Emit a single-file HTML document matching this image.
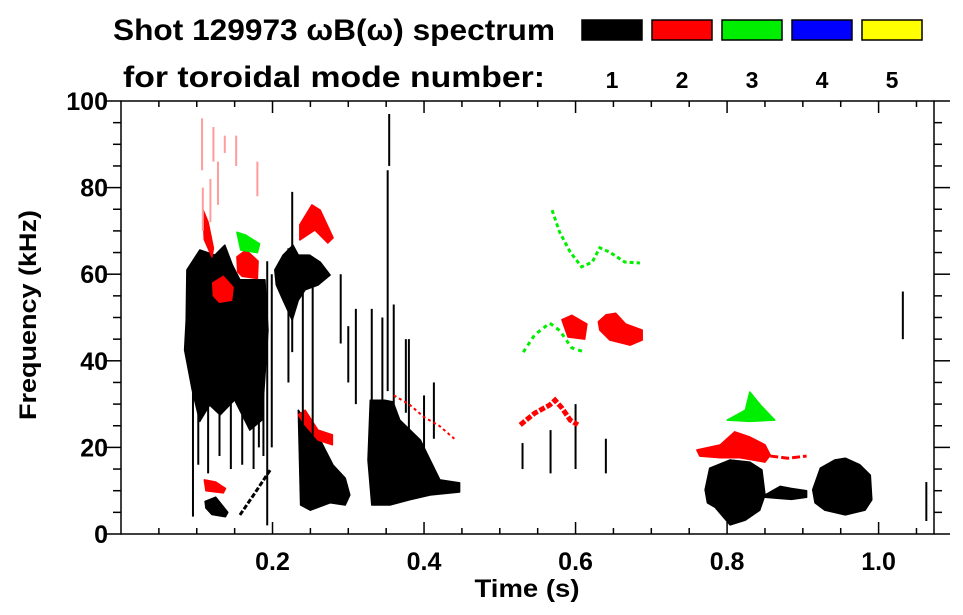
<!DOCTYPE html>
<html><head><meta charset="utf-8">
<style>
body{margin:0;background:#fff;}
svg{display:block;font-family:"Liberation Sans",sans-serif;font-weight:bold;}
</style></head>
<body>
<svg id="chart" width="963" height="615" viewBox="0 0 963 615">
  <text x="113" y="40" font-size="30" textLength="442" lengthAdjust="spacingAndGlyphs">Shot 129973 ωB(ω) spectrum</text>
  <text x="123" y="87" font-size="30" textLength="422" lengthAdjust="spacingAndGlyphs">for toroidal mode number:</text>
  <g id="legend"></g>
  <g id="plot"></g>
  <g id="axes"></g>
  <text x="527" y="597" font-size="25" text-anchor="middle" textLength="105" lengthAdjust="spacingAndGlyphs">Time (s)</text>
  <text transform="translate(36,315) rotate(-90)" font-size="24" text-anchor="middle" textLength="210" lengthAdjust="spacingAndGlyphs">Frequency (kHz)</text>
</svg>
<script>
// mode colours / legend
const modeNumbers = [1, 2, 3, 4, 5];
const modeColors = ["#000000", "#ff0000", "#00ee00", "#0000ff", "#ffff00"];
const faintColor = "#ff9c9c";
// axis ticks
const xTickLabels = ["0.2", "0.4", "0.6", "0.8", "1.0"];
const xTickValues = [0.2, 0.4, 0.6, 0.8, 1.0];
const yTickValues = [0, 20, 40, 60, 80, 100];
// spectral blobs as polygons in (time s, freq kHz)
const blobTs = [
  [0.087,0.104,0.124,0.137,0.147,0.157,0.190,0.194,0.186,0.170,0.150,0.131,0.117,0.104,0.094,0.084,0.086],
  [0.203,0.214,0.227,0.234,0.249,0.263,0.276,0.260,0.243,0.234,0.226,0.214,0.205],
  [0.234,0.243,0.263,0.280,0.296,0.302,0.296,0.276,0.250,0.237],
  [0.329,0.348,0.359,0.368,0.395,0.408,0.421,0.447,0.447,0.408,0.381,0.355,0.331,0.326],
  [0.771,0.777,0.804,0.830,0.846,0.850,0.843,0.824,0.804,0.784,0.774],
  [0.850,0.870,0.885,0.905,0.905,0.885,0.870,0.850],
  [0.913,0.923,0.942,0.956,0.975,0.989,0.991,0.982,0.956,0.929,0.916],
  [0.111,0.125,0.141,0.138,0.120,0.112],
  [0.108,0.115,0.122,0.120,0.110],
  [0.121,0.135,0.148,0.146,0.130,0.122],
  [0.153,0.165,0.181,0.180,0.160,0.154],
  [0.236,0.252,0.263,0.280,0.273,0.256,0.236],
  [0.234,0.243,0.260,0.279,0.279,0.260,0.243],
  [0.630,0.640,0.653,0.666,0.688,0.688,0.672,0.645,0.632],
  [0.582,0.595,0.615,0.612,0.590],
  [0.760,0.791,0.810,0.830,0.850,0.857,0.850,0.817,0.791,0.764],
  [0.110,0.125,0.138,0.135,0.112],
  [0.153,0.165,0.183,0.180,0.158],
  [0.800,0.824,0.830,0.844,0.863,0.830]
];
const blobFs = [
  [61.0,65.6,64.4,66.7,62.1,58.7,58.7,47.1,26.3,24.0,31.0,27.5,29.8,26.0,33.3,42.5,49.4],
  [61.0,64.4,66.7,64.4,64.4,62.8,59.8,57.5,56.4,54.0,49.4,54.0,57.5],
  [28.6,26.3,21.7,15.9,12.9,9.0,6.7,7.2,5.5,6.7],
  [30.9,30.9,30.5,26.3,21.7,17.1,12.5,11.8,9.7,9.0,7.9,6.7,6.7,17.1],
  [10.2,15.2,17.1,16.6,14.8,9.0,5.5,3.2,2.1,6.2,7.2],
  [9.0,11.0,10.5,10.0,8.5,8.0,8.2,8.5],
  [10.2,15.2,17.1,17.5,16.0,13.6,7.9,5.5,4.4,5.5,7.2],
  [7.5,8.5,5.0,4.0,4.5,6.0],
  [75.0,72.0,66.0,64.0,68.0],
  [58.0,59.5,57.0,54.0,53.5,55.0],
  [64.0,65.6,63.0,59.0,59.5,60.5],
  [71.4,76.0,74.8,68.4,67.2,70.2,67.9],
  [27.5,25.2,21.7,20.6,22.9,24.0,28.6],
  [49.0,50.6,51.0,48.5,47.1,44.8,43.6,44.8,47.1],
  [49.5,50.5,48.5,45.0,45.5],
  [19.4,20.6,23.6,22.4,20.6,18.2,16.6,17.6,17.6,18.0],
  [12.5,12.0,10.5,9.5,10.0],
  [69.7,69.0,67.0,65.0,65.6],
  [26.3,28.6,32.8,29.8,26.3,26.0]
];
const blobMode = [1,1,1,1,1,1,1,1,2,2,2,2,2,2,2,2,2,3,3];
// vertical streaks: time, freq low, freq high, mode
const streakT  = [0.193,0.226,0.352,0.354,0.331,0.345,0.360,0.380,0.095,0.102,0.115,0.130,0.145,0.160,0.175,0.182,0.188,0.199,0.221,0.240,0.253,1.032,0.600,0.530,0.567,0.640,1.063,0.310,0.300,0.290,0.400,0.413,0.376];
const streakF0 = [2,42,33,85,23,18,20,14,4,16,14,18,15,16,15,20,18,20,35,18,20,45,15,15,14,14,3,30,35,44,18,22,28];
const streakF1 = [63,79,84,97,52,50,53,45,34,45,40,42,48,46,45,50,55,60,66,60,62,56,30,21,24,22,12,52,48,60,32,35,45];
const streakMode = [1,1,1,1,1,1,1,1,1,1,1,1,1,1,1,1,1,1,1,1,1,1,1,1,1,1,1,1,1,1,1,1,1];
// faint red (n=2) streaks at high frequency
const faintT  = [0.107,0.122,0.137,0.152,0.180,0.108,0.118,0.128];
const faintF0 = [84,86,88,85,78,70,72,76];
const faintF1 = [96,94,92,92,86,80,82,86];
// green (n=3) upper chirp and lower arc
const arcT = [0.569,0.579,0.593,0.608,0.622,0.632,0.645,0.665,0.685];
const arcF = [74.8,69.7,65.1,61.7,62.8,66.1,65.1,62.8,62.6];
const arc2T = [0.531,0.546,0.566,0.579,0.595,0.612];
const arc2F = [42.0,46.0,48.7,47.0,43.0,42.0];
// red (n=2) lower arc and decaying line
const arc3T = [0.527,0.546,0.566,0.573,0.582,0.593,0.603];
const arc3F = [25.2,27.9,29.8,30.9,29.1,26.3,25.2];
const arc4T = [0.360,0.380,0.400,0.420,0.440];
const arc4F = [32.0,30.0,27.0,25.0,22.0];
const arc5T = [0.857,0.880,0.905];
const arc5F = [18.0,17.5,18.0];
const diagT = [0.157,0.175,0.197];
const diagF = [4.4,9.0,14.8];

const svg = document.getElementById('chart');
const NS = 'http://www.w3.org/2000/svg';
const L = 121, R = 934, T = 101, B = 534;
const xs = t => L + t * 757.6;
const ys = f => B - f * (B - T) / 100;
function mk(tag, attrs, parent) {
  const e = document.createElementNS(NS, tag);
  for (const k in attrs) e.setAttribute(k, attrs[k]);
  parent.appendChild(e);
  return e;
}
const plot = document.getElementById('plot');
const axes = document.getElementById('axes');
const legend = document.getElementById('legend');

modeNumbers.forEach((m, i) => {
  const r = mk('rect', {x: 582 + i * 70, y: 20, width: 60, height: 20, fill: modeColors[i], stroke: '#000', 'stroke-width': 1.5}, legend);
  
  
  const tx = mk('text', {x: 612 + i * 70, y: 88, 'font-size': 23, 'text-anchor': 'middle'}, legend);
  tx.textContent = m;
  
  
});

blobTs.forEach((ts, i) => {
  const pts = ts.map((t, j) => xs(t).toFixed(1) + ',' + ys(blobFs[i][j]).toFixed(1)).join(' ');
  const c = modeColors[blobMode[i] - 1];
  const e = mk('polygon', {points: pts, fill: c, stroke: c, 'stroke-width': 1.5, 'stroke-linejoin': 'round'}, plot);
  
  
});
streakT.forEach((t, i) => {
  const e = mk('line', {x1: xs(t), x2: xs(t), y1: ys(streakF0[i]), y2: ys(streakF1[i]), stroke: modeColors[streakMode[i] - 1], 'stroke-width': 2}, plot);
  
  
});
faintT.forEach((t, i) => {
  const e = mk('line', {x1: xs(t), x2: xs(t), y1: ys(faintF0[i]), y2: ys(faintF1[i]), stroke: faintColor, 'stroke-width': 2}, plot);
  
  
});
function poly(ts, fs, color, w, dash, name) {
  const e = mk('polyline', {points: ts.map((t, i) => xs(t) + ',' + ys(fs[i])).join(' '), fill: 'none', stroke: color, 'stroke-width': w, 'stroke-dasharray': dash}, plot);
  
  
}
poly(arcT, arcF, modeColors[2], 3, '4 3', 'mode-3-upper-chirp');
poly(arc2T, arc2F, modeColors[2], 3, '4 4', 'mode-3-lower-arc');
poly(arc3T, arc3F, modeColors[1], 5, '6 2', 'mode-2-lower-arc');
poly(arc4T, arc4F, modeColors[1], 2, '3 3', 'mode-2-decay-line');
poly(arc5T, arc5F, modeColors[1], 3, '8 3', 'mode-2-thin-band');
poly(diagT, diagF, modeColors[0], 3, '5 2', 'mode-1-diagonal');

// frame
const fr = mk('rect', {x: L, y: T, width: R - L, height: B - T, fill: 'none', stroke: '#000', 'stroke-width': 1.5}, axes);


for (let k = 1; k <= 21; k++) {
  const v = k * 0.05, x = xs(v);
  if (x > R) break;
  const len = (k % 4 === 0) ? 12 : 6;
  mk('line', {x1: x, x2: x, y1: B, y2: B - len, stroke: '#000', 'stroke-width': 1.5}, axes);
  mk('line', {x1: x, x2: x, y1: T, y2: T + len, stroke: '#000', 'stroke-width': 1.5}, axes);
}
xTickValues.forEach((v, i) => {
  const t = mk('text', {x: xs(v), y: 570, 'font-size': 25, 'text-anchor': 'middle'}, axes);
  t.textContent = xTickLabels[i];
  
  
});
for (let f = 0; f <= 100; f += 5) {
  const y = ys(f), len = (f % 20 === 0) ? 16 : 8;
  mk('line', {x1: L, x2: L - len, y1: y, y2: y, stroke: '#000', 'stroke-width': 1.5}, axes);
  mk('line', {x1: R, x2: R + len, y1: y, y2: y, stroke: '#000', 'stroke-width': 1.5}, axes);
}
yTickValues.forEach(v => {
  const t = mk('text', {x: 108, y: ys(v) + 9, 'font-size': 25, 'text-anchor': 'end'}, axes);
  t.textContent = v;
  
  
});
</script>
</body></html>
